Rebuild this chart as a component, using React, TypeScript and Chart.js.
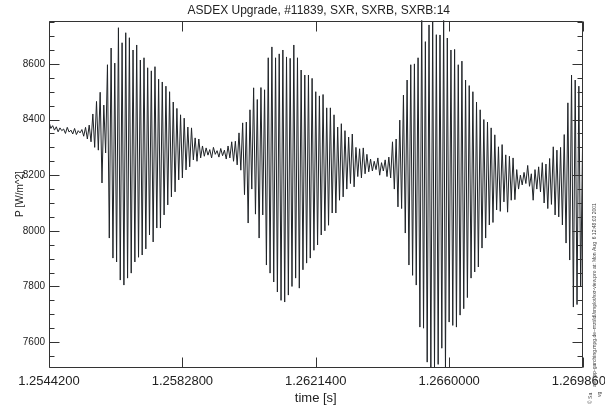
import { useEffect, useRef } from 'react';
import { Chart, registerables } from 'chart.js';

Chart.register(...registerables);

const TITLE = 'ASDEX Upgrade, #11839, SXR, SXRB, SXRB:14';
const X_TITLE = 'time [s]';
const Y_TITLE = 'P [W/m^2]';
const SIDE_TEXT = 'asg.ipp-garching.mpg.de~mzt/idl/xrsplot/sxr-view.pro at: Mon Aug  6 12:48:03 2001';

const T_START = 1.25442;
const T_END = 1.26986;
const X_TICKS = [1.25442, 1.25828, 1.26214, 1.266, 1.26986];
const X_TICK_LABELS = ['1.2544200', '1.2582800', '1.2621400', '1.2660000', '1.2698600'];
const Y_TICKS = [7600, 7800, 8000, 8200, 8400, 8600];
const Y_MIN = 7508;
const Y_MAX = 8756;

// per oscillation cycle: upper and lower excursion (W/m^2)
const PEAKS = [
  8392, 8378, 8374, 8370, 8366, 8372, 8362, 8368, 8360, 8364,
  8372, 8380, 8420, 8465, 8498, 8452, 8597, 8657, 8603, 8730,
  8676, 8712, 8694, 8650, 8668, 8614, 8622, 8586, 8575, 8590,
  8545, 8535, 8520, 8500, 8463, 8440, 8417, 8405, 8373, 8370,
  8334, 8330, 8305, 8298, 8292, 8300, 8288, 8296, 8290, 8305,
  8320, 8322, 8352, 8388, 8391, 8435, 8514, 8472, 8515, 8507,
  8622, 8661, 8622, 8636, 8650, 8625, 8620, 8668, 8622, 8578,
  8560, 8560, 8548, 8500, 8485, 8490, 8442, 8442, 8417, 8373,
  8385, 8360, 8337, 8348, 8300, 8295, 8298, 8275, 8258, 8250,
  8262, 8245, 8255, 8265, 8320, 8330, 8398, 8488, 8542, 8597,
  8600, 8622, 8790, 8680, 8740, 8751, 8705, 8704, 8775, 8693,
  8650, 8652, 8597, 8610, 8542, 8522, 8500, 8463, 8435, 8400,
  8391, 8370, 8345, 8302, 8310, 8273, 8268, 8262, 8220, 8200,
  8210, 8235, 8205, 8220, 8230, 8245, 8240, 8260, 8302, 8290,
  8300, 8346, 8460, 8560, 8542, 8520,
];
const TROUGHS = [
  8368, 8362, 8356, 8360, 8350, 8355, 8348, 8346, 8352, 8340,
  8330, 8320, 8300, 8290, 8172, 8280, 7974, 7902, 7888, 7823,
  7805, 7830, 7848, 7888, 7905, 7913, 7935, 7985, 7960, 8010,
  8010, 8057, 8093, 8122, 8140, 8183, 8190, 8219, 8230, 8255,
  8250, 8262, 8268, 8272, 8262, 8275, 8265, 8270, 8258, 8262,
  8250, 8237, 8218, 8130, 8028, 8150, 8060, 7974, 8057, 7877,
  7848, 7816, 7780, 7750, 7744, 7769, 7800, 7830, 7794, 7860,
  7884, 7902, 7930, 7949, 7985, 8000, 8020, 8064, 8064, 8110,
  8122, 8150, 8170, 8158, 8195, 8190, 8205, 8212, 8215, 8220,
  8200, 8215, 8195, 8190, 8150, 8086, 8080, 7992, 7877, 7840,
  7805, 7654, 7650, 7528, 7480, 7510, 7520, 7578, 7495, 7672,
  7660, 7654, 7697, 7720, 7760, 7830, 7852, 7870, 7938, 7974,
  8021, 8030, 8075, 8070, 8104, 8067, 8110, 8112, 8150, 8165,
  8170, 8160, 8110, 8150, 8140, 8100, 8080, 8095, 8057, 8050,
  8021, 7956, 7895, 7726, 7735, 7800,
];
const LAST_VALUE = 8300;

const FONT = '"Liberation Sans", Arial, Helvetica, sans-serif';
const INK = '#222222';

export default function App() {
  const ref = useRef<HTMLCanvasElement | null>(null);

  useEffect(() => {
    document.body.style.margin = '0';
    const canvas = ref.current;
    if (!canvas) return;

    const values: number[] = [];
    for (let k = 0; k < PEAKS.length; k++) {
      values.push(PEAKS[k]);
      values.push(TROUGHS[k]);
    }
    values.push(LAST_VALUE);
    const n = values.length;
    const data = values.map((v, i) => ({ x: T_START + (i * (T_END - T_START)) / (n - 1), y: v }));

    const framePlugin = {
      id: 'idlFrame',
      afterDraw(chart: any) {
        const { ctx, chartArea, scales } = chart;
        const { left, right, top, bottom } = chartArea;
        const xs = scales.x;
        const ys = scales.y;
        ctx.save();
        ctx.strokeStyle = '#333333';
        ctx.lineWidth = 1;
        const L = Math.round(left) + 0.5;
        const R = Math.round(right) - 0.5;
        const T = Math.round(top) + 0.5;
        const B = Math.round(bottom) - 0.5;
        ctx.beginPath();
        ctx.rect(L, T, R - L, B - T);
        ctx.stroke();
        // y ticks (major every 200, minor every 50), pointing inward on both sides
        ctx.beginPath();
        for (let v = 7550; v <= 8750; v += 50) {
          const py = Math.round(ys.getPixelForValue(v)) + 0.5;
          const len = v % 200 === 0 ? 10 : 5;
          ctx.moveTo(L, py);
          ctx.lineTo(L + len, py);
          ctx.moveTo(R, py);
          ctx.lineTo(R - len, py);
        }
        // x ticks, inward on top and bottom
        X_TICKS.forEach((t) => {
          const px = Math.round(xs.getPixelForValue(t)) + 0.5;
          ctx.moveTo(px, B);
          ctx.lineTo(px, B - 10);
          ctx.moveTo(px, T);
          ctx.lineTo(px, T + 10);
        });
        ctx.stroke();

        ctx.fillStyle = INK;
        // y tick labels
        ctx.font = `10px ${FONT}`;
        ctx.textAlign = 'right';
        ctx.textBaseline = 'middle';
        Y_TICKS.forEach((v) => {
          ctx.fillText(String(v), left - 4, ys.getPixelForValue(v));
        });
        // x tick labels
        ctx.font = `13px ${FONT}`;
        ctx.textAlign = 'center';
        X_TICKS.forEach((t, i) => {
          ctx.fillText(X_TICK_LABELS[i], xs.getPixelForValue(t), 381);
        });
        // x title
        ctx.fillText(X_TITLE, (left + right) / 2, 398);
        // chart title
        ctx.font = `12px ${FONT}`;
        ctx.fillText(TITLE, (left + right) / 2 + 3, 11);
        // y title
        ctx.save();
        ctx.translate(20, (top + bottom) / 2);
        ctx.rotate(-Math.PI / 2);
        ctx.font = `10px ${FONT}`;
        ctx.fillText(Y_TITLE, 0, 0);
        ctx.restore();
        // side annotation
        ctx.save();
        ctx.translate(595, 387);
        ctx.rotate(-Math.PI / 2);
        ctx.font = `5px ${FONT}`;
        ctx.textAlign = 'left';
        ctx.fillStyle = '#444';
        ctx.fillText(SIDE_TEXT, 0, 0);
        ctx.fillText('\u00A9 Sa', -17, -4);
        ctx.fillText('vg', -10, 5);
        ctx.restore();
        ctx.restore();
      },
    };

    const chart = new Chart(canvas, {
      type: 'line',
      data: {
        datasets: [
          {
            data,
            borderColor: '#202428',
            borderWidth: 1,
            pointRadius: 0,
            tension: 0,
            fill: false,
          },
        ],
      },
      options: {
        responsive: false,
        animation: false,
        events: [],
        layout: { padding: { left: 49, right: 22.5, top: 20.5, bottom: 37.3 } },
        scales: {
          x: { type: 'linear', min: T_START, max: T_END, display: false },
          y: { type: 'linear', min: Y_MIN, max: Y_MAX, display: false },
        },
        plugins: { legend: { display: false }, tooltip: { enabled: false }, title: { display: false } },
      },
      plugins: [framePlugin],
    });
    return () => chart.destroy();
  }, []);

  return (
    <div style={{ position: 'absolute', left: 0, top: 0, width: 605, height: 405, background: '#fff' }}>
      <canvas ref={ref} width={605} height={405} style={{ display: 'block' }} />
    </div>
  );
}
